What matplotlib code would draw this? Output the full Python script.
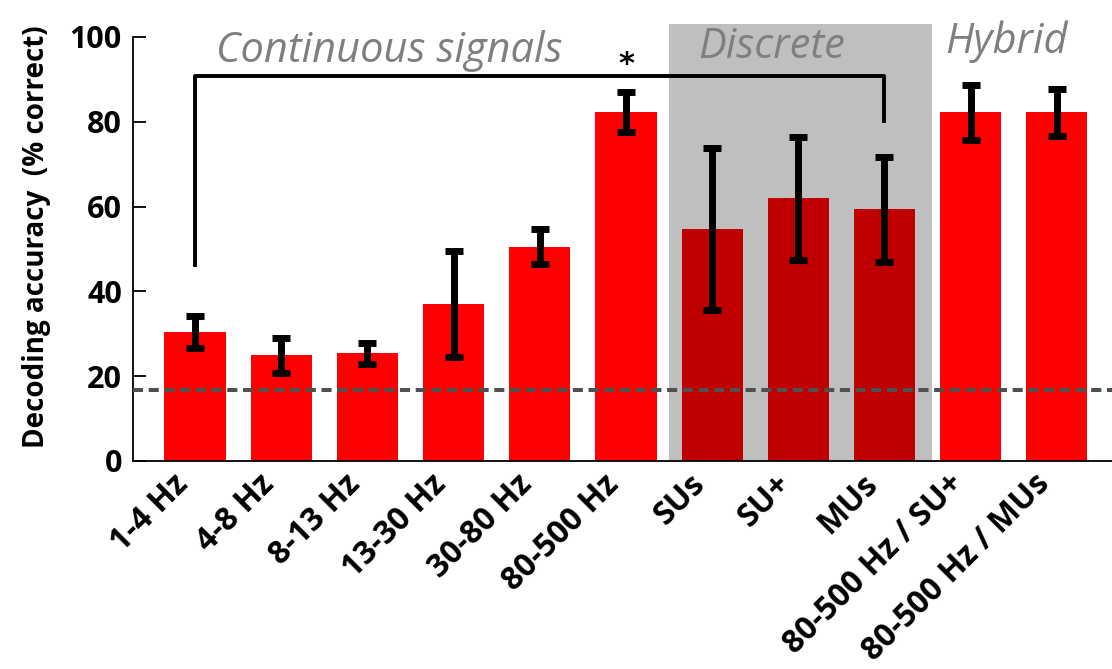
import matplotlib
matplotlib.use("Agg")
import matplotlib.pyplot as plt
import matplotlib.transforms as mtransforms
import numpy as np

# Decoding accuracy per signal type (% correct) with error bars
labels = ['1-4 Hz', '4-8 Hz', '8-13 Hz', '13-30 Hz', '30-80 Hz', '80-500 Hz',
          'SUs', 'SU+', 'MUs', '80-500 Hz / SU+', '80-500 Hz / MUs']
accuracy = [30.4, 24.9, 25.4, 37.0, 50.5, 82.4, 54.6, 62.0, 59.4, 82.2, 82.2]
errors = [3.8, 4.1, 2.5, 12.6, 4.1, 4.7, 19.1, 14.5, 12.4, 6.4, 5.6]
groups = ['cont'] * 6 + ['disc'] * 3 + ['hyb'] * 2
chance = 100 / 6
bracket = (0, 8)            # bars compared by the significance bracket
bracket_ends = (45.8, 79.7)  # lower ends of the bracket legs
bracket_top = 90.8

colors = {'cont': '#fe0000', 'disc': '#c00000', 'hyb': '#fe0000'}

plt.rcParams['font.family'] = ['Open Sans', 'DejaVu Sans']

fig = plt.figure(figsize=(11.12, 6.69), dpi=100)
ax = fig.add_axes([0.1196, 0.311, 0.8804, 0.6337])

x = np.arange(len(labels))
ax.axvspan(5.5, 8.55, ymin=0, ymax=1.03, color='#bfbfbf', lw=0, zorder=0, clip_on=False)
ax.bar(x, accuracy, width=0.71, color=[colors[g] for g in groups], zorder=2)
ax.errorbar(x, accuracy, yerr=errors, fmt='none', ecolor='black', elinewidth=5,
            capsize=6.5, capthick=5, zorder=3)
ax.axhline(chance, color='#505050', lw=2.9, dashes=(2.5, 1.4), zorder=4)

# significance bracket
b0, b1 = bracket
ax.plot([b0, b0, b1, b1], [bracket_ends[0], bracket_top, bracket_top, bracket_ends[1]],
        color='black', lw=2.8, solid_capstyle='butt', zorder=5, clip_on=False)
ax.text(5.0, bracket_top - 0.6, '*', ha='center', va='bottom', fontsize=22,
        fontweight='bold', family=['DejaVu Sans'])

# group headings
head = dict(ha='center', va='baseline', fontsize=30, style='italic', color='#7f7f7f')
ax.text(2.25, 94.1, 'Continuous signals', **head)
ax.text(6.69, 95.0, 'Discrete', **head)
ax.text(9.42, 96.2, 'Hybrid', **head)

ax.set_xlim(-0.72, 10.64)
ax.set_ylim(0, 100)
ax.set_yticks([0, 20, 40, 60, 80, 100])
ax.tick_params(axis='y', direction='in', length=9, width=1.3, labelsize=22, pad=8)
ax.tick_params(axis='x', length=0, pad=4)
for lbl in ax.get_yticklabels():
    lbl.set_fontweight('bold')

ax.set_xticks(x)
ax.set_xticklabels(labels, rotation=45, ha='right', va='center', rotation_mode='anchor',
                   fontsize=23, fontweight='bold')
offset = mtransforms.ScaledTranslation(-12 / 100, -13 / 100, fig.dpi_scale_trans)
for lbl in ax.get_xticklabels():
    lbl.set_transform(lbl.get_transform() + offset)

ax.set_ylabel('Decoding accuracy  (% correct)', fontsize=20, fontweight='bold')
ax.yaxis.set_label_coords(-0.084, 0.528)

for side in ('top', 'right'):
    ax.spines[side].set_visible(False)
for side in ('left', 'bottom'):
    ax.spines[side].set_linewidth(1.3)

fig.savefig('out.png', dpi=100)
